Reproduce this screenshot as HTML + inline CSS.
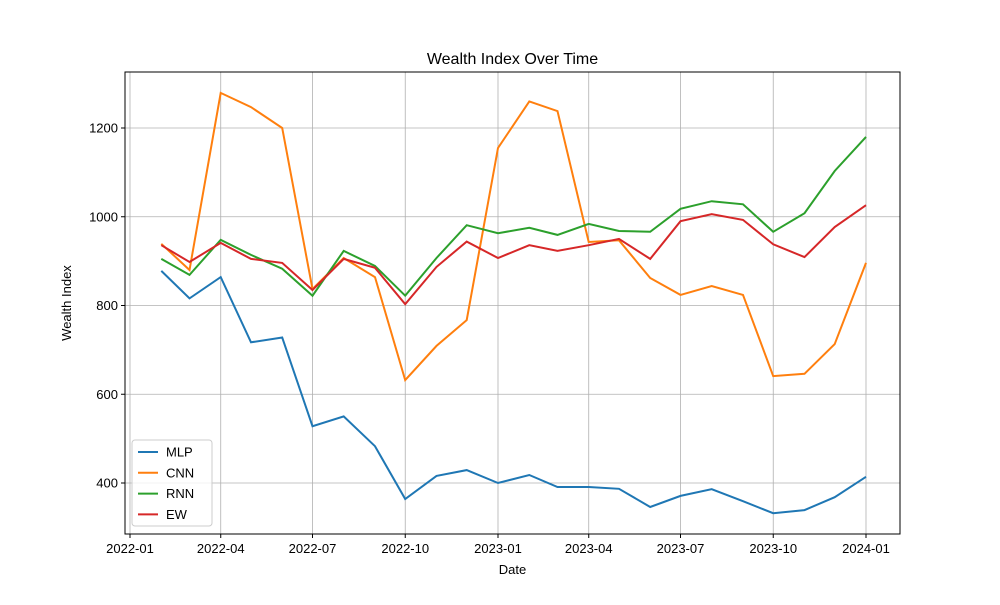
<!DOCTYPE html>
<html><head><meta charset="utf-8"><style>
body{margin:0;background:#fff}
svg text{font-family:"Liberation Sans","DejaVu Sans",sans-serif;fill:#000}
</style></head><body>
<svg id="chart" width="1000" height="600" xmlns="http://www.w3.org/2000/svg">
<rect width="1000" height="600" fill="#fff"/>
<text x="512.5" y="64" font-size="16" text-anchor="middle">Wealth Index Over Time</text>
<g id="grid"></g>
<g id="axes"></g>
<g id="series"></g>
<rect x="125" y="72" width="775" height="462" fill="none" stroke="#000" stroke-width="1"/>
<text x="512.5" y="574" font-size="13" text-anchor="middle">Date</text>
<text x="71" y="303" font-size="13" text-anchor="middle" transform="rotate(-90 71 303)">Wealth Index</text>
<g id="legend"></g>
</svg>
<script>
const dates=["2022-02-01","2022-03-01","2022-04-01","2022-05-01","2022-06-01","2022-07-01","2022-08-01","2022-09-01","2022-10-01","2022-11-01","2022-12-01","2023-01-01","2023-02-01","2023-03-01","2023-04-01","2023-05-01","2023-06-01","2023-07-01","2023-08-01","2023-09-01","2023-10-01","2023-11-01","2023-12-01","2024-01-01"];
const mlp=[878,816,864,717,728,528,550,483,364,416,429,400,418,391,391,387,346,371,386,359,332,339,368,414];
const cnn=[939,880,1279,1247,1200,837,907,864,632,709,767,1155,1260,1238,943,947,862,824,844,824,641,646,713,896];
const rnn=[905,869,948,914,883,822,923,889,822,907,981,963,975,959,984,968,966,1018,1035,1028,966,1008,1103,1180];
const ew=[936,898,941,905,896,835,905,885,803,887,944,907,936,923,936,950,905,990,1006,993,938,909,977,1026];
const seriesNames=["MLP","CNN","RNN","EW"];
const colors=["#1f77b4","#ff7f0e","#2ca02c","#d62728"];
const xTicks=["2022-01-01","2022-04-01","2022-07-01","2022-10-01","2023-01-01","2023-04-01","2023-07-01","2023-10-01","2024-01-01"];
const xTickLabels=["2022-01","2022-04","2022-07","2022-10","2023-01","2023-04","2023-07","2023-10","2024-01"];
const yTicks=[400,600,800,1000,1200];
const NS="http://www.w3.org/2000/svg";
const d0=Date.parse("2022-01-01"),d1=Date.parse("2024-01-01");
function X(d){return 130+(Date.parse(d)-d0)/(d1-d0)*736;}
function Y(v){return 483-(v-400)*0.44375;}
function mk(t,a,p){const e=document.createElementNS(NS,t);for(const k in a)e.setAttribute(k,a[k]);p.appendChild(e);return e;}
const grid=document.getElementById('grid'),axes=document.getElementById('axes');
xTicks.forEach((d,i)=>{const x=X(d);
 const g=mk('line',{x1:x,x2:x,y1:72,y2:534,stroke:'#b0b0b0','stroke-width':0.8},grid);
 
 mk('line',{x1:x,x2:x,y1:534,y2:538,stroke:'#000'},axes);
 const t=mk('text',{x:x,y:553,'font-size':13,'text-anchor':'middle'},axes);t.textContent=xTickLabels[i];
 });
yTicks.forEach(v=>{const y=Y(v);
 const g=mk('line',{x1:125,x2:900,y1:y,y2:y,stroke:'#b0b0b0','stroke-width':0.8},grid);
 
 mk('line',{x1:121,x2:125,y1:y,y2:y,stroke:'#000'},axes);
 const t=mk('text',{x:118,y:y+4.5,'font-size':13,'text-anchor':'end'},axes);t.textContent=v;
 });
const data=[mlp,cnn,rnn,ew];const sg=document.getElementById('series');
data.forEach((arr,i)=>{const pts=arr.map((v,j)=>X(dates[j]).toFixed(1)+','+Y(v).toFixed(1)).join(' ');
 const p=mk('polyline',{points:pts,fill:'none',stroke:colors[i],'stroke-width':2},sg);
 });
const lg=document.getElementById('legend');
mk('rect',{x:132,y:440,width:80,height:86,rx:3,fill:'#fff','fill-opacity':0.8,stroke:'#ccc'},lg);
seriesNames.forEach((n,i)=>{const y=452+i*20.8;
 const l=mk('line',{x1:138,x2:158,y1:y,y2:y,stroke:colors[i],'stroke-width':2},lg);
 
 const t=mk('text',{x:166,y:y+4.5,'font-size':13},lg);t.textContent=n;
 });
</script>
</body></html>
